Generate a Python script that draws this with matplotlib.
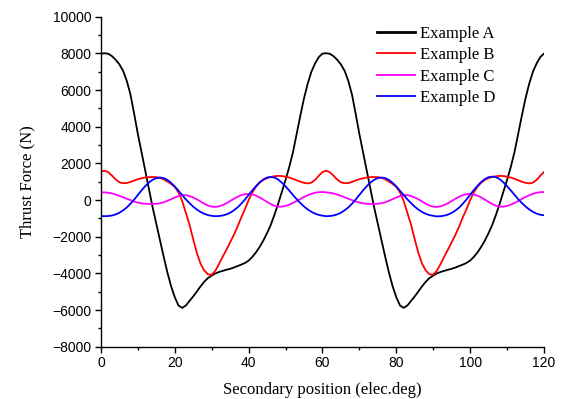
import matplotlib
matplotlib.use("Agg")
import matplotlib.pyplot as plt
import numpy as np
from matplotlib.ticker import MultipleLocator

# secondary position, elec.deg
position = np.arange(0, 121, 1)

example_a = [
    7990, 8010, 7980, 7850, 7650, 7400, 7050, 6500, 5750, 4700,
    3600, 2600, 1600, 600, -400, -1300, -2200, -3100, -3950, -4700,
    -5300, -5750, -5880, -5750, -5500, -5250, -4980, -4700, -4450, -4250,
    -4120, -4000, -3920, -3860, -3800, -3750, -3680, -3600, -3520, -3430,
    -3300, -3100, -2850, -2550, -2200, -1800, -1350, -800, -200, 450,
    1100, 1800, 2600, 3600, 4600, 5550, 6350, 7000, 7450, 7800,
    7990, 8010, 7980, 7850, 7650, 7400, 7050, 6500, 5750, 4700,
    3600, 2600, 1600, 600, -400, -1300, -2200, -3100, -3950, -4700,
    -5300, -5750, -5880, -5750, -5500, -5250, -4980, -4700, -4450, -4250,
    -4120, -4000, -3920, -3860, -3800, -3750, -3680, -3600, -3520, -3430,
    -3300, -3100, -2850, -2550, -2200, -1800, -1350, -800, -200, 450,
    1100, 1800, 2600, 3600, 4600, 5550, 6350, 7000, 7450, 7800,
    7990,
]

example_b = [
    1560, 1600, 1520, 1330, 1120, 970, 920, 930, 990, 1070,
    1140, 1190, 1230, 1250, 1260, 1250, 1210, 1130, 1010, 880,
    720, 420, -50, -700, -1350, -2150, -2900, -3480, -3850, -4050,
    -4070, -3850, -3480, -3080, -2700, -2300, -1900, -1450, -950, -500,
    0, 420, 730, 950, 1100, 1200, 1260, 1300, 1320, 1310,
    1280, 1230, 1160, 1080, 1000, 940, 910, 950, 1100, 1330,
    1530, 1600, 1520, 1330, 1120, 970, 920, 930, 990, 1070,
    1140, 1190, 1230, 1250, 1260, 1250, 1210, 1130, 1010, 880,
    720, 420, -50, -700, -1350, -2150, -2900, -3480, -3850, -4050,
    -4070, -3850, -3480, -3080, -2700, -2300, -1900, -1450, -950, -500,
    0, 420, 730, 950, 1100, 1200, 1260, 1300, 1320, 1310,
    1280, 1230, 1160, 1080, 1000, 940, 910, 950, 1100, 1330,
    1530,
]

example_c = [
    420, 420, 400, 360, 300, 230, 150, 70, 0, -80,
    -140, -180, -200, -210, -210, -200, -170, -120, -40, 50,
    140, 220, 270, 270, 220, 140, 40, -80, -200, -300,
    -360, -370, -340, -270, -170, -50, 70, 180, 270, 320,
    340, 310, 240, 140, 20, -100, -220, -310, -360, -360,
    -320, -250, -160, -50, 60, 170, 260, 340, 400, 430,
    440, 420, 400, 360, 300, 230, 150, 70, 0, -80,
    -140, -180, -200, -210, -210, -200, -170, -120, -40, 50,
    140, 220, 270, 270, 220, 140, 40, -80, -200, -300,
    -360, -370, -340, -270, -170, -50, 70, 180, 270, 320,
    340, 310, 240, 140, 20, -100, -220, -310, -360, -360,
    -320, -250, -160, -50, 60, 170, 260, 340, 400, 430,
    440,
]

example_d = [
    -870, -880, -870, -840, -780, -690, -560, -400, -200, 30,
    280, 530, 760, 960, 1110, 1200, 1230, 1200, 1100, 940,
    740, 510, 270, 40, -170, -360, -520, -650, -750, -820,
    -860, -880, -870, -840, -780, -690, -560, -400, -200, 30,
    280, 530, 760, 970, 1130, 1230, 1260, 1230, 1120, 950,
    750, 520, 280, 50, -160, -350, -510, -640, -740, -810,
    -850, -880, -870, -840, -780, -690, -560, -400, -200, 30,
    280, 530, 760, 960, 1110, 1200, 1230, 1200, 1100, 940,
    740, 510, 270, 40, -170, -360, -520, -650, -750, -820,
    -860, -890, -880, -850, -790, -700, -570, -410, -200, 30,
    290, 550, 780, 990, 1150, 1250, 1280, 1250, 1140, 970,
    760, 530, 290, 50, -160, -350, -510, -640, -740, -800,
    -830,
]

series_names = ["Example A", "Example B", "Example C", "Example D"]
series_colors = ["black", "#ff0000", "#ff00ff", "#0000ff"]

serif = ["Liberation Serif", "DejaVu Serif"]
sans = ["Liberation Sans", "DejaVu Sans"]

fig = plt.figure(figsize=(5.64, 3.99), dpi=100)
ax = fig.add_axes([0.179, 0.131, 0.7855, 0.827])

for values, name, color in zip(
    [example_a, example_b, example_c, example_d], series_names, series_colors
):
    ax.plot(position, values, color=color, linewidth=1.3, label=name)

ax.set_xlim(0, 120)
ax.set_ylim(-8000, 10000)
ax.xaxis.set_major_locator(MultipleLocator(20))
ax.xaxis.set_minor_locator(MultipleLocator(10))
ax.yaxis.set_major_locator(MultipleLocator(2000))
ax.yaxis.set_minor_locator(MultipleLocator(1000))

for side in ["top", "right"]:
    ax.spines[side].set_visible(False)
for side in ["left", "bottom"]:
    ax.spines[side].set_linewidth(1.0)

ax.tick_params(which="major", direction="out", length=4, width=1.0, pad=3)
ax.tick_params(which="minor", direction="out", length=2.5, width=1.0)
for label in ax.get_xticklabels() + ax.get_yticklabels():
    label.set_fontfamily(sans)
    label.set_fontsize(10)

ax.set_xlabel("Secondary position (elec.deg)", fontfamily=serif, fontsize=12, labelpad=8)
ax.set_ylabel("Thrust Force (N)", fontfamily=serif, fontsize=12, labelpad=12)

leg = ax.legend(
    loc="upper left",
    bbox_to_anchor=(0.622, 0.972),
    frameon=False,
    borderpad=0,
    borderaxespad=0,
    handlelength=2.3,
    handletextpad=0.3,
    labelspacing=0.32,
    prop={"family": serif, "size": 12},
)
leg.get_lines()[0].set_linewidth(2.0)

fig.savefig("out.png", dpi=100)
plt.close(fig)
